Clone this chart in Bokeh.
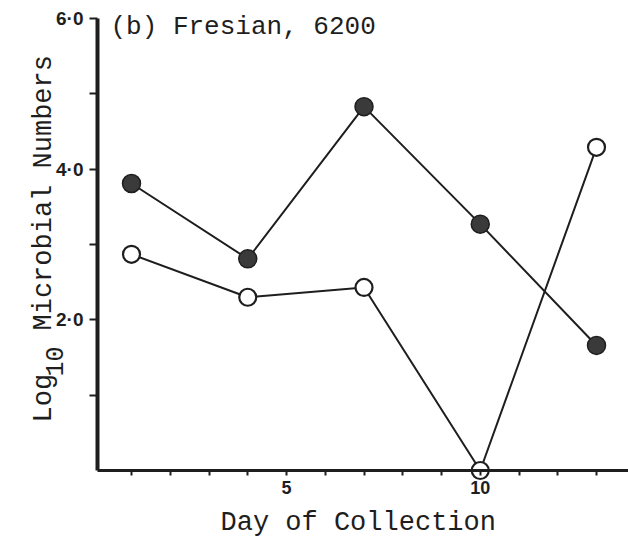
from bokeh.plotting import figure
from bokeh.models import Range1d, FixedTicker, Label
from bokeh.embed import file_html
from bokeh.resources import INLINE
import math

# ---- data ----
days = [1, 4, 7, 10, 13]
filled_values = [3.81, 2.81, 4.83, 3.27, 1.66]
open_values = [2.87, 2.30, 2.43, 0.0, 4.29]

y_ticks = [1, 2, 3, 4, 5, 6]
y_tick_labels = ["", "2·0", "", "4·0", "", "6·0"]
x_ticks = [1, 2, 3, 4, 5, 6, 7, 8, 9, 10, 11, 12, 13]
x_tick_labels = ["", "", "", "", "5", "", "", "", "", "10", "", "", ""]

title_text = "(b) Fresian, 6200"
x_label_text = "Day of Collection"
y_label_parts = ["Log", "10", "Microbial Numbers"]

# ---- layout (the frame covers the whole canvas; axes sit at fixed places) ----
W, H = 628, 536
DAY0_PX, PX_PER_DAY = 92.25, 38.75      # pixel of day 0, pixels per day
VAL0_PY, PX_PER_UNIT = 470.0, 75.33     # pixel of value 0, pixels per unit
AXIS_LEFT_PX = 97

def dx(px):
    return (px - DAY0_PX) / PX_PER_DAY

def dy(py):
    return (VAL0_PY - py) / PX_PER_UNIT

p = figure(width=W, height=H,
           x_range=Range1d(dx(0), dx(W)), y_range=Range1d(dy(H), dy(0)),
           output_backend="svg", toolbar_location=None,
           min_border_left=0, min_border_right=0,
           min_border_top=0, min_border_bottom=0)
p.grid.visible = False
p.outline_line_color = None
p.background_fill_color = "white"
p.border_fill_color = "white"

ink = "#1e1e1e"
mono = "Liberation Mono"

# axes
yax = p.yaxis[0]
yax.fixed_location = dx(AXIS_LEFT_PX)
yax.bounds = (0, y_ticks[-1])
yax.ticker = FixedTicker(ticks=y_ticks)
yax.major_label_overrides = {t: l for t, l in zip(y_ticks, y_tick_labels)}
yax.axis_line_width = 4
yax.axis_line_color = ink
yax.major_tick_in = 0
yax.major_tick_out = 8
yax.major_tick_line_width = 2
yax.major_tick_line_color = ink
yax.minor_tick_line_color = None
yax.major_label_standoff = 6
yax.major_label_text_font = "Liberation Sans"
yax.major_label_text_font_style = "bold"
yax.major_label_text_font_size = "19px"
yax.major_label_text_color = ink

xax = p.xaxis[0]
xax.fixed_location = 0
xax.bounds = (dx(AXIS_LEFT_PX), dx(W))
xax.ticker = FixedTicker(ticks=x_ticks)
xax.major_label_overrides = {t: l for t, l in zip(x_ticks, x_tick_labels)}
xax.axis_line_width = 3
xax.axis_line_color = ink
xax.major_tick_in = 0
xax.major_tick_out = 5
xax.major_tick_line_width = 2
xax.major_tick_line_color = ink
xax.minor_tick_line_color = None
xax.major_label_standoff = 5
xax.major_label_text_font = "Liberation Sans"
xax.major_label_text_font_style = "bold"
xax.major_label_text_font_size = "18px"
xax.major_label_text_color = ink

# series
p.line(days, filled_values, line_color=ink, line_width=2)
p.line(days, open_values, line_color=ink, line_width=2)
p.scatter(days, filled_values, size=18, fill_color="#3a3a3a", line_color=ink, line_width=1.5)
p.scatter(days, open_values, size=17, fill_color="white", line_color=ink, line_width=2.2)

# texts
def lab(px, py, text, size, angle=0.0):
    p.add_layout(Label(x=dx(px), y=dy(py), text=text, text_font=mono,
                       text_font_size=size, text_color=ink, angle=angle,
                       text_baseline="alphabetic", text_align="left"))

lab(110, 26, title_text, "26px")
lab(220, 522, x_label_text, "27px")
lab(43, 422, y_label_parts[0], "27px", math.pi / 2)
lab(54, 376, y_label_parts[1], "25px", math.pi / 2)
lab(43, 330, y_label_parts[2], "27px", math.pi / 2)

open("out.html", "w").write(file_html(p, INLINE))
